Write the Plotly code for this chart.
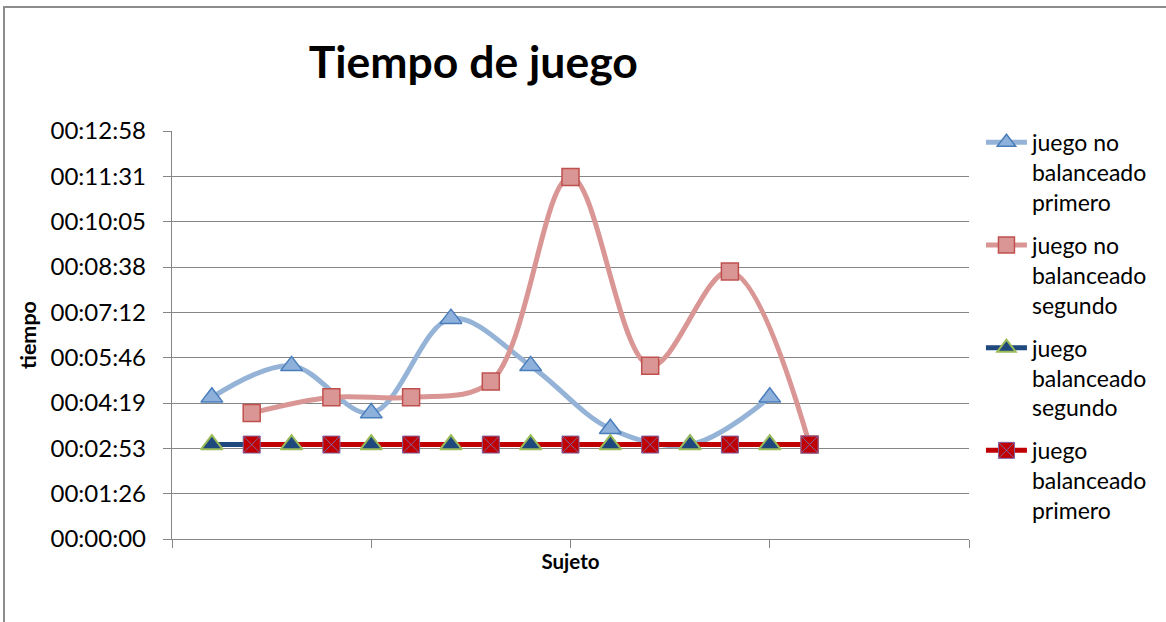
import plotly.graph_objects as go

# Sujetos (odd / even) and game durations (hh:mm:ss)
sujetos_impares = [1, 3, 5, 7, 9, 11, 13, 15]
sujetos_pares = [2, 4, 6, 8, 10, 12, 14, 16]

no_bal_primero = ["00:04:30", "00:05:30", "00:04:00", "00:07:00",
                  "00:05:30", "00:03:30", "00:03:00", "00:04:30"]
no_bal_segundo = ["00:04:00", "00:04:30", "00:04:30", "00:05:00",
                  "00:11:30", "00:05:30", "00:08:30", "00:03:00"]
bal_segundo = ["00:03:00", "00:03:00", "00:03:00", "00:03:00",
               "00:03:00", "00:03:00", "00:03:00", "00:03:00"]
bal_primero = ["00:03:00", "00:03:00", "00:03:00", "00:03:00",
               "00:03:00", "00:03:00", "00:03:00", "00:03:00"]

y_tick_labels = ["00:00:00", "00:01:26", "00:02:53", "00:04:19", "00:05:46",
                 "00:07:12", "00:08:38", "00:10:05", "00:11:31", "00:12:58"]
x_ticks = [0, 5, 10, 15, 20]


def to_seconds(t):
    h, m, s = (int(p) for p in t.split(":"))
    return h * 3600 + m * 60 + s


STEP = 86.4  # excel major unit 0.001 day
y_tick_vals = [i * STEP for i in range(len(y_tick_labels))]

series = [
    dict(name="juego no<br>balanceado<br>primero", x=sujetos_impares, y=no_bal_primero,
         line="#95B3D7", symbol="triangle-up", size=19, fill="#8EB1DC", edge="#4A7EBB", ew=1.5),
    dict(name="juego no<br>balanceado<br>segundo", x=sujetos_pares, y=no_bal_segundo,
         line="#D99694", symbol="square", size=17, fill="#D99694", edge="#C0504D", ew=1.5),
    dict(name="juego<br>balanceado<br>segundo", x=sujetos_impares, y=bal_segundo,
         line="#1F497D", symbol="triangle-up", size=19, fill="#1F497D", edge="#9BBB59", ew=2),
    dict(name="juego<br>balanceado<br>primero", x=sujetos_pares, y=bal_primero,
         line="#C00000", symbol="square-x", size=17, fill="#C00000", edge="#8064A2", ew=1),
]

fig = go.Figure()

# legend-only entries
for i, s in enumerate(series):
    fig.add_trace(go.Scatter(
        x=[None], y=[None], name=s["name"], legendgroup=str(i), mode="lines+markers",
        line=dict(color=s["line"], width=5),
        marker=dict(symbol=s["symbol"], size=s["size"], color=s["fill"],
                    line=dict(color=s["edge"], width=s["ew"])),
    ))

# lines first (excel draws all lines under all markers)
for i, s in enumerate(series):
    fig.add_trace(go.Scatter(
        x=s["x"], y=[to_seconds(v) for v in s["y"]], legendgroup=str(i), showlegend=False,
        mode="lines", line=dict(color=s["line"], width=5, shape="spline", smoothing=1),
        hoverinfo="skip",
    ))

for i, s in enumerate(series):
    fig.add_trace(go.Scatter(
        x=s["x"], y=[to_seconds(v) for v in s["y"]], legendgroup=str(i), showlegend=False,
        mode="markers", name=s["name"].replace("<br>", " "),
        marker=dict(symbol=s["symbol"], size=s["size"], color=s["fill"],
                    line=dict(color=s["edge"], width=s["ew"])),
    ))

fig.update_layout(
    width=1166, height=622,
    margin=dict(l=172, r=197, t=131, b=83),
    paper_bgcolor="white", plot_bgcolor="white",
    font=dict(family="Lato, sans-serif", size=24, color="black"),
    title=dict(text="<b>Tiempo de juego</b>", x=0.378, xref="paper", xanchor="center",
               y=0.9, yanchor="middle", font=dict(size=44.5, color="black")),
    legend=dict(x=1.015, xanchor="left", y=1.025, yanchor="top", valign="top",
                itemwidth=41, tracegroupgap=10, traceorder="grouped", maxheight=600,
                font=dict(size=23), bgcolor="rgba(0,0,0,0)"),
    showlegend=True,
)

fig.update_xaxes(
    range=[0, 20], tickvals=x_ticks, showticklabels=False, ticks="outside", ticklen=8,
    tickcolor="#868686", tickwidth=1.3, showline=True, linecolor="#868686", linewidth=1.3,
    showgrid=False, zeroline=False,
    title=dict(text="<b>Sujeto</b>", font=dict(size=20.5), standoff=7),
)

fig.update_yaxes(
    range=[0, 777.7], tickvals=y_tick_vals, ticktext=y_tick_labels, ticks="outside",
    ticklen=8, tickcolor="#868686", tickwidth=1.3, ticklabelstandoff=12,
    showline=True, linecolor="#868686", linewidth=1.3,
    showgrid=True, gridcolor="#868686", gridwidth=1.3, zeroline=False,
    title=dict(text="<b>tiempo</b>", font=dict(size=21.5), standoff=7),
)

# outer chart frame
fig.add_shape(type="rect", xref="paper", yref="paper",
              x0=-0.2108, x1=1.26, y0=-0.3, y1=1.304,
              line=dict(color="#8C8C8C", width=2), fillcolor="rgba(0,0,0,0)")

fig.write_html("out.html", config={"displayModeBar": False},
               post_script="document.body.style.margin='0';")
